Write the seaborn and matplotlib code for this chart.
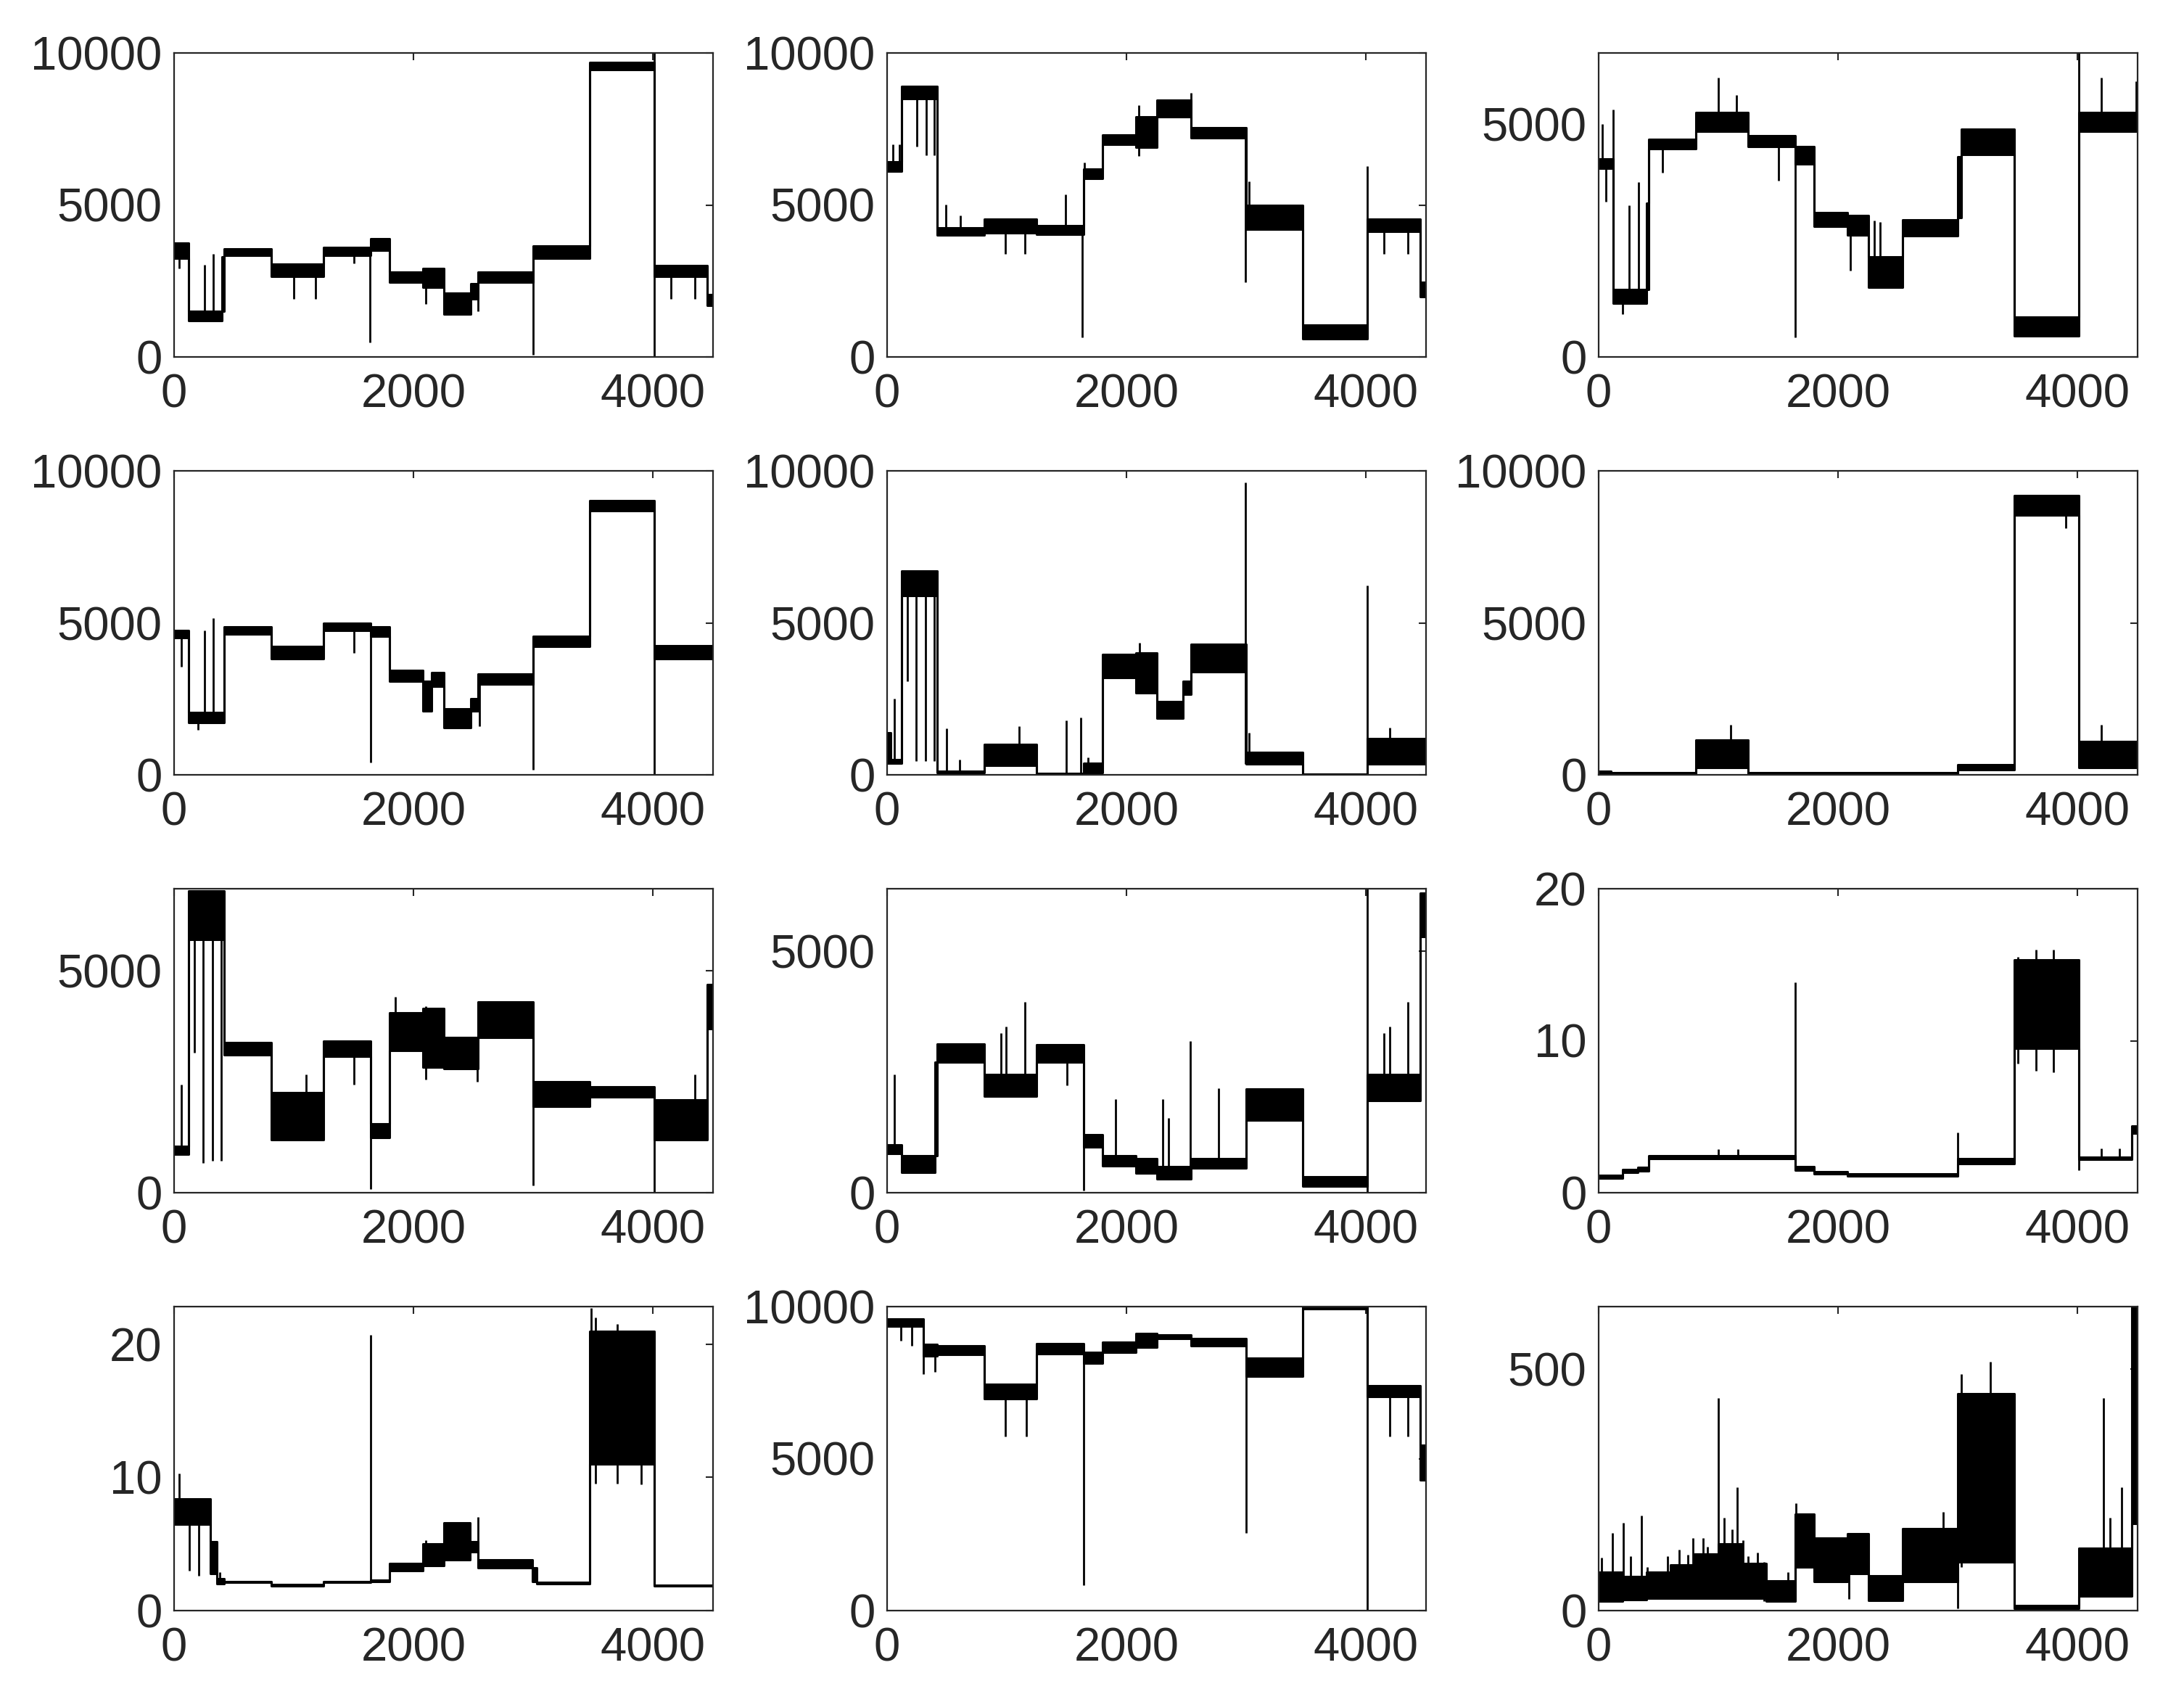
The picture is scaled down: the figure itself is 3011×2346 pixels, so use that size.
import numpy as np
import pandas as pd
import matplotlib
matplotlib.use("Agg")
import matplotlib.pyplot as plt
import seaborn as sns

# ---------------- data ----------------
# segments: (start_x, low, high) -> level band held until next start (last ends at X_END)
X_END = 4500

seg_01 = [(0, 3250, 3750), (120, 1200, 1500), (400, 1500, 3300), (420, 3350, 3550),
          (810, 2650, 3050), (1250, 3350, 3600), (1640, 3500, 3880), (1800, 2450, 2800),
          (2080, 2300, 2900), (2250, 1400, 2100), (2480, 1900, 2400), (2540, 2450, 2800),
          (3000, 3250, 3650), (3470, 9450, 9700), (4010, 2650, 3000), (4450, 1700, 2050)]
spk_01 = [(40, 2900, 3300), (253, 1400, 3030), (327, 1400, 3400), (1000, 1900, 2700),
          (1180, 1900, 2700), (1500, 3070, 3400), (1635, 485, 3600), (2100, 1740, 2500),
          (2540, 1500, 2450), (3000, 80, 3000), (4010, 0, 10000), (4150, 1900, 2700),
          (4350, 1900, 2700)]

seg_02 = [(0, 6100, 6430), (120, 8500, 8900), (420, 4000, 4250), (810, 4080, 4530),
          (1250, 4040, 4320), (1640, 5860, 6180), (1800, 6990, 7310), (2080, 6900, 7900),
          (2250, 7900, 8450), (2540, 7200, 7550), (3000, 4200, 5000), (3470, 600, 1050),
          (4010, 4120, 4530), (4450, 1980, 2470)]
spk_02 = [(50, 6100, 6990), (100, 6100, 6990), (250, 6910, 8500), (330, 6630, 8500),
          (395, 6630, 8500), (490, 4000, 5010), (610, 4000, 4650), (990, 3400, 4100),
          (1150, 3400, 4100), (1490, 4100, 5340), (1630, 650, 4100), (1650, 5860, 6390),
          (2100, 6600, 8290), (2540, 7500, 8690), (2990, 2470, 7200), (3020, 4500, 5780),
          (4010, 600, 6270), (4150, 3400, 4200), (4350, 3400, 4200)]

seg_03 = [(0, 4045, 4260), (120, 1150, 1450), (400, 1450, 3300), (420, 4470, 4680),
          (810, 4850, 5250), (1250, 4520, 4760), (1640, 4150, 4520), (1800, 2800, 3100),
          (2080, 2620, 3040), (2250, 1500, 2150), (2540, 2600, 2950), (3000, 3000, 4300),
          (3030, 4350, 4900), (3470, 450, 850), (4010, 4850, 5250)]
spk_03 = [(30, 4045, 5000), (60, 3330, 4100), (120, 1450, 5310), (200, 925, 1200),
          (253, 1150, 3250), (333, 1150, 3750), (530, 3965, 4500), (1000, 4850, 6000),
          (1150, 4850, 5630), (1500, 3780, 4520), (1640, 420, 4520), (2100, 1850, 2700),
          (2300, 1500, 2930), (2350, 1500, 2900), (4010, 450, 6530), (4200, 4850, 6000),
          (4490, 4850, 5920)]

seg_04 = [(0, 4510, 4750), (120, 1720, 2050), (420, 4630, 4880), (810, 3810, 4220),
          (1250, 4750, 5000), (1640, 4550, 4880), (1800, 3070, 3440), (2080, 2090, 3070),
          (2150, 2910, 3360), (2250, 1560, 2170), (2480, 2100, 2500), (2540, 2990, 3320),
          (3000, 4220, 4550), (3470, 8690, 9020), (4010, 3810, 4260)]
spk_04 = [(60, 3560, 4600), (200, 1475, 1800), (253, 1750, 4750), (327, 1750, 5160),
          (1500, 4020, 4800), (1640, 410, 4600), (2550, 1600, 2990), (3000, 160, 3000),
          (4010, 0, 8690)]

seg_05 = [(0, 370, 1390), (30, 370, 490), (120, 5900, 6700), (420, 60, 130),
          (810, 300, 1000), (1250, 0, 40), (1640, 80, 370), (1800, 3200, 3950),
          (2080, 2700, 4000), (2250, 1850, 2400), (2470, 2660, 3070), (2540, 3400, 4300),
          (3000, 350, 750), (3470, 0, 30), (4010, 350, 1200)]
spk_05 = [(60, 370, 2500), (170, 3070, 5900), (245, 450, 5900), (324, 450, 5900),
          (392, 450, 5900), (495, 100, 1520), (605, 100, 490), (1100, 300, 1600),
          (1495, 20, 1800), (1620, 20, 1885), (1680, 80, 570), (2110, 2700, 4340),
          (2990, 350, 9630), (3020, 350, 1390), (4010, 0, 6230), (4200, 350, 1560)]

seg_06 = [(0, 20, 120), (100, 20, 70), (810, 250, 1150), (1250, 20, 70),
          (3000, 165, 330), (3470, 8550, 9200), (4010, 250, 1100)]
spk_06 = [(1100, 250, 1640), (3900, 8110, 8600), (4200, 250, 1640)]

seg_07 = [(0, 860, 1050), (120, 5700, 6800), (420, 3100, 3380), (810, 1200, 2250),
          (1250, 3080, 3410), (1640, 1250, 1550), (1800, 3200, 4050), (2080, 2830, 4160),
          (2250, 2800, 3500), (2540, 3500, 4300), (3000, 1940, 2500), (3470, 2160, 2390),
          (4010, 1200, 2100), (4450, 3700, 4700)]
spk_07 = [(60, 860, 2440), (170, 3160, 5700), (245, 665, 5700), (324, 720, 5700),
          (392, 720, 5700), (1100, 1200, 2660), (1500, 2440, 3100), (1640, 80, 3100),
          (1850, 3200, 4410), (2100, 2550, 4200), (2530, 2500, 2800), (3000, 165, 3500),
          (4010, 0, 2160), (4350, 1200, 2660)]

seg_08 = [(0, 810, 990), (120, 420, 760), (400, 760, 2700), (420, 2700, 3080),
          (810, 2000, 2450), (1250, 2700, 3055), (1640, 940, 1200), (1800, 560, 765),
          (2080, 410, 710), (2250, 280, 535), (2540, 510, 710), (3000, 1500, 2150),
          (3470, 130, 330), (4010, 1900, 2450), (4450, 5300, 6200)]
spk_08 = [(60, 810, 2445), (950, 2000, 3310), (995, 2000, 3440), (1150, 2000, 3950),
          (1500, 2215, 2800), (1640, 50, 2700), (1910, 600, 1935), (2300, 400, 1935),
          (2350, 400, 1550), (2530, 300, 3130), (2770, 510, 2165), (4010, 0, 6290),
          (4150, 1900, 3310), (4200, 1900, 3440), (4350, 1900, 3950)]

seg_09 = [(0, 0.95, 1.15), (200, 1.35, 1.55), (330, 1.45, 1.65), (420, 2.25, 2.45),
          (1640, 1.5, 1.7), (1800, 1.25, 1.4), (2080, 1.1, 1.25), (3000, 1.9, 2.25),
          (3470, 9.5, 15.3), (4010, 2.2, 2.35), (4450, 3.9, 4.4)]
spk_09 = [(1000, 2.3, 2.85), (1160, 2.3, 2.85), (1640, 1.6, 13.85), (3000, 1.2, 3.97),
          (3500, 8.5, 15.5), (3650, 8.0, 16.0), (3800, 7.9, 16.0), (4010, 1.5, 10.0),
          (4200, 2.2, 2.9), (4350, 2.2, 2.9)]

seg_10 = [(0, 6.5, 8.4), (300, 2.8, 5.2), (360, 2.0, 2.4), (420, 2.1, 2.2),
          (810, 1.85, 1.97), (1250, 2.1, 2.2), (1640, 2.2, 2.3), (1800, 3.0, 3.55),
          (2080, 3.4, 5.0), (2250, 3.8, 6.6), (2470, 4.4, 5.2), (2540, 3.2, 3.8),
          (2990, 2.2, 3.2), (3030, 2.0, 2.12), (3470, 11.0, 21.0), (4010, 1.83, 1.93)]
spk_10 = [(40, 6.5, 10.3), (127, 3.0, 7.0), (206, 2.6, 7.0), (380, 2.0, 2.9),
          (1640, 2.16, 20.7), (2100, 3.4, 5.3), (2540, 3.8, 7.05), (3480, 11.0, 22.7),
          (3520, 9.55, 22.0), (3700, 9.55, 21.5), (3900, 9.5, 21.0)]

seg_11 = [(0, 9350, 9600), (300, 8380, 8750), (420, 8420, 8710), (810, 6970, 7450),
          (1250, 8460, 8790), (1640, 8140, 8500), (1800, 8500, 8830), (2080, 8670, 9110),
          (2250, 8950, 9070), (2540, 8710, 8950), (3000, 7700, 8300), (3470, 9920, 10000),
          (4010, 7050, 7410), (4450, 4300, 5430)]
spk_11 = [(118, 8870, 9400), (206, 8710, 9400), (300, 7780, 8750), (400, 7860, 8750),
          (990, 5720, 7000), (1160, 5720, 7000), (1640, 825, 8460), (3000, 2560, 8700),
          (4010, 0, 10000), (4200, 5720, 7050), (4350, 5720, 7050)]

seg_12 = [(0, 20, 80), (200, 22, 70), (400, 25, 80), (600, 25, 95), (800, 25, 118),
          (1000, 25, 139), (1200, 25, 98), (1400, 20, 62), (1640, 90, 200),
          (1800, 60, 150), (2080, 77, 159), (2250, 21, 72), (2540, 60, 170),
          (3000, 100, 450), (3470, 4, 11), (4010, 30, 130), (4450, 180, 630)]
spk_12 = [(24, 20, 110), (118, 26, 161), (206, 26, 182), (265, 26, 113), (356, 26, 197),
          (406, 26, 90), (574, 26, 113), (670, 26, 126), (745, 26, 116), (790, 26, 151),
          (872, 26, 151), (907, 26, 133), (1000, 26, 441), (1050, 26, 192),
          (1113, 26, 169), (1157, 26, 256), (1207, 26, 146), (1246, 26, 113),
          (1325, 26, 121), (1378, 20, 100), (1578, 20, 80), (1650, 90, 222),
          (2090, 24, 120), (2875, 60, 205), (3000, 4, 100), (3030, 90, 490),
          (3270, 100, 515), (4215, 30, 441), (4270, 30, 192), (4368, 30, 256)]

y_max = [10000, 10000, 6530, 10000, 10000, 10000, 6850, 6290, 20, 22.83, 10000, 630]
y_ticks = [[0, 5000, 10000], [0, 5000, 10000], [0, 5000],
           [0, 5000, 10000], [0, 5000, 10000], [0, 5000, 10000],
           [0, 5000], [0, 5000], [0, 10, 20],
           [0, 10, 20], [0, 5000, 10000], [0, 500]]
x_ticks = [0, 2000, 4000]

segments = [seg_01, seg_02, seg_03, seg_04, seg_05, seg_06,
            seg_07, seg_08, seg_09, seg_10, seg_11, seg_12]
spikes = [spk_01, spk_02, spk_03, spk_04, spk_05, spk_06,
          spk_07, spk_08, spk_09, spk_10, spk_11, spk_12]

# ---------------- drawing ----------------
sns.set_style("white")
plt.rcParams['font.family'] = ['Liberation Sans', 'DejaVu Sans']

W, H = 3011, 2346
DPI = 100
fig = plt.figure(figsize=(W / DPI, H / DPI), dpi=DPI)

col_left = [240, 1223, 2204]
row_top = [73, 649, 1225, 1801]
ax_w, ax_h = 743, 419
frame_col = "#262626"

for i in range(12):
    r, c = divmod(i, 3)
    left = col_left[c] / W
    bottom = 1 - (row_top[r] + ax_h) / H
    ax = fig.add_axes([left, bottom, ax_w / W, ax_h / H])

    seg = segments[i]
    xs = [s[0] for s in seg] + [X_END]
    lo = [s[1] for s in seg] + [seg[-1][1]]
    hi = [s[2] for s in seg] + [seg[-1][2]]
    df = pd.DataFrame({"x": xs + xs, "y": lo + hi,
                       "edge": ["lo"] * len(xs) + ["hi"] * len(xs)})
    ax.fill_between(xs, lo, hi, step="post", color="black", linewidth=0)
    sns.lineplot(data=df, x="x", y="y", units="edge", estimator=None, sort=False,
                 drawstyle="steps-post", color="black", linewidth=2.2, ax=ax,
                 legend=False)
    sp = spikes[i]
    ax.vlines([s[0] for s in sp], [s[1] for s in sp], [s[2] for s in sp],
              color="black", linewidth=2.0)

    ax.set_xlim(0, X_END)
    ax.set_ylim(0, y_max[i])
    ax.set_xticks(x_ticks)
    ax.set_yticks(y_ticks[i])
    ax.set_xlabel("")
    ax.set_ylabel("")
    ax.tick_params(axis="both", direction="in", top=True, right=True, length=7,
                   width=1.5, colors=frame_col, labelsize=47)
    ax.tick_params(axis="x", pad=16)
    ax.tick_params(axis="y", pad=12)
    for s in ax.spines.values():
        s.set_color(frame_col)
        s.set_linewidth(1.6)
        s.set_visible(True)

fig.savefig("out.png", dpi=DPI, facecolor="white")
